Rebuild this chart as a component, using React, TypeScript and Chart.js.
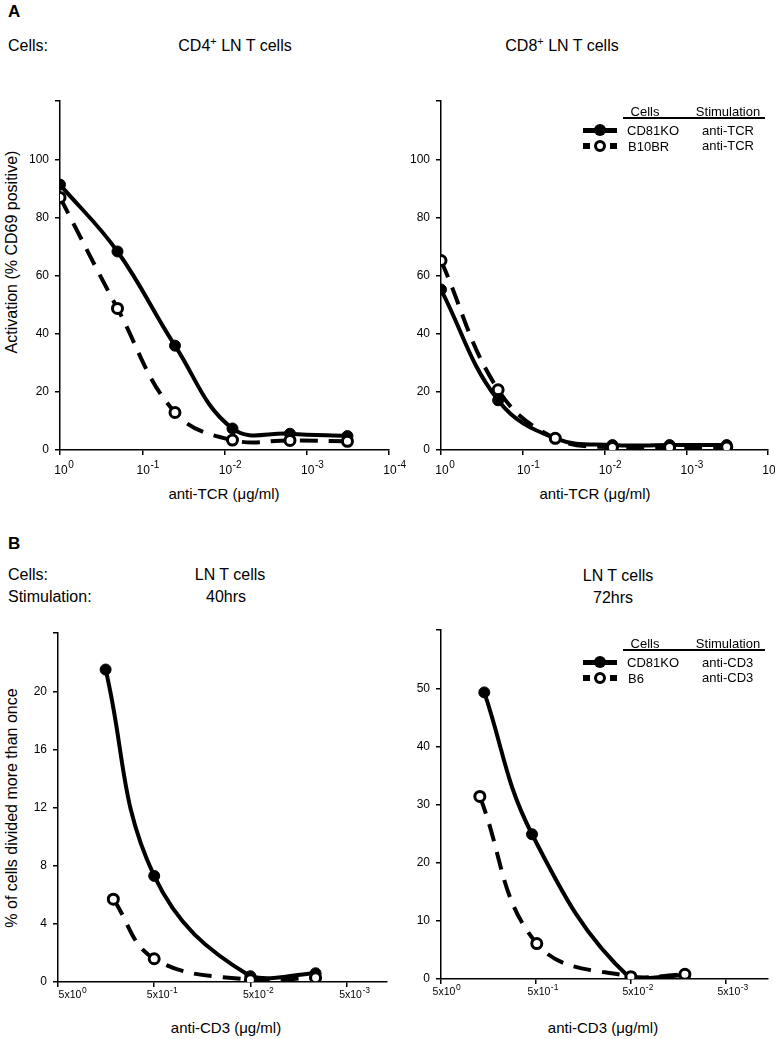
import React, { useEffect, useRef } from 'react';
import { Chart, registerables } from 'chart.js';
Chart.register(...registerables);

// ---------- Data ----------
const topDoses = [1, 0.2, 0.04, 0.008, 0.0016, 0.00032];
const cd4KO = [91.3, 68.3, 35.9, 7.4, 5.6, 4.8];
const cd4B10BR = [86.9, 48.7, 12.9, 3.4, 3.3, 3.0];
const cd8KO = [55.2, 17.1, 4.0, 1.7, 1.7, 1.7];
const cd8B10BR = [65.2, 20.7, 4.0, 0.9, 0.9, 1.0];
const topTickValues = [1, 0.1, 0.01, 0.001, 0.0001];
const topTickBases = ['10', '10', '10', '10', '10'];
const topTickExps = ['0', '-1', '-2', '-3', '-4'];

const h40DosesKO = [1.6, 0.5, 0.05, 0.0105];
const h40KO = [21.5, 7.3, 0.4, 0.6];
const h40DosesB6 = [1.33, 0.5, 0.05, 0.0105];
const h40B6 = [5.7, 1.6, 0.15, 0.3];
const h72DosesKO = [1.75, 0.55, 0.05, 0.0135];
const h72KO = [49.3, 24.9, 0.0, 0.7];
const h72DosesB6 = [1.95, 0.49, 0.05, 0.0135];
const h72B6 = [31.4, 6.1, 0.4, 0.8];
const bottomTickValues = [5, 0.5, 0.05, 0.005];
const bottomTickBases = ['5x10', '5x10', '5x10', '5x10'];
const bottomTickExps = ['0', '-1', '-2', '-3'];

const FONT = '"Liberation Sans", Arial, sans-serif';

// draws x tick labels with a true superscript exponent
const supTicksPlugin = {
  id: 'supTicks',
  afterDraw(chart: any, _args: any, o: any) {
    const s = chart.scales.x;
    const ctx = chart.ctx;
    ctx.save();
    ctx.fillStyle = '#000';
    ctx.textBaseline = 'alphabetic';
    ctx.textAlign = 'left';
    o.values.forEach((v: number, i: number) => {
      const px = s.getPixelForValue(v);
      ctx.font = `${o.size}px ${FONT}`;
      const wb = ctx.measureText(o.bases[i]).width;
      const x0 = px - wb / 2 + (o.shift || 0) + (i === 0 ? o.firstShift || 0 : 0);
      const y = s.top + o.dy;
      ctx.fillText(o.bases[i], x0, y);
      ctx.font = `${o.supSize}px ${FONT}`;
      ctx.fillText(o.exps[i], x0 + wb + 0.5, y - o.raise);
    });
    ctx.restore();
  },
};

type PanelProps = {
  axisX: number; xEnd: number; yTop: number; yBottom: number;
  xMin: number; xMax: number; yMax: number; yStep: number;
  tickValues: number[]; tickBases: string[]; tickExps: string[];
  labelSize: number; supSize: number; labelDy: number; raise: number; shift: number; firstShift: number;
  solidX: number[]; solidY: number[]; dashX: number[]; dashY: number[];
};

const YW = 50, PT = 10, XH = 32;

function Panel(p: PanelProps) {
  const ref = useRef<HTMLCanvasElement>(null);
  const PR = Math.min(22, 775 - p.xEnd);
  const left = p.axisX - YW;
  const top = p.yTop - PT;
  const width = p.xEnd - p.axisX + YW + PR;
  const height = p.yBottom - p.yTop + PT + XH;
  useEffect(() => {
    const grid = { drawOnChartArea: false, drawTicks: true, tickLength: 5, color: '#000', lineWidth: 1.5 };
    const border = { color: '#000', width: 1.5 };
    const chart = new Chart(ref.current!, {
      type: 'line',
      plugins: [supTicksPlugin],
      data: {
        datasets: [
          {
            data: p.solidX.map((x, i) => ({ x, y: p.solidY[i] })),
            borderColor: '#000', borderWidth: 4, tension: 0.4,
            pointBackgroundColor: '#000', pointBorderColor: '#000', pointBorderWidth: 1, pointRadius: 5.5,
            order: 2,
          },
          {
            data: p.dashX.map((x, i) => ({ x, y: p.dashY[i] })),
            borderColor: '#000', borderWidth: 4, tension: 0.4, borderDash: [18, 11],
            pointBackgroundColor: '#fff', pointBorderColor: '#000', pointBorderWidth: 3, pointRadius: 5,
            order: 1,
          },
        ],
      },
      options: {
        responsive: false,
        maintainAspectRatio: false,
        animation: false,
        layout: { padding: { top: PT, right: PR, left: 0, bottom: 0 }, autoPadding: false },
        plugins: {
          legend: { display: false },
          tooltip: { enabled: false },
          supTicks: {
            values: p.tickValues, bases: p.tickBases, exps: p.tickExps,
            size: p.labelSize, supSize: p.supSize, dy: p.labelDy, raise: p.raise,
            shift: p.shift, firstShift: p.firstShift,
          },
        },
        scales: {
          x: {
            type: 'logarithmic', reverse: true, min: p.xMin, max: p.xMax,
            afterBuildTicks: (s: any) => { s.ticks = p.tickValues.map((v) => ({ value: v, major: true })); },
            afterFit: (s: any) => { s.height = XH; },
            ticks: { autoSkip: false, maxRotation: 0, minRotation: 0, callback: () => '' },
            grid, border,
          },
          y: {
            type: 'linear', min: 0, max: p.yMax,
            afterFit: (s: any) => { s.width = YW; },
            ticks: {
              stepSize: p.yStep, color: '#000', padding: 6,
              font: { family: FONT, size: 12 },
              callback: (v: any) => (Number(v) === p.yMax ? '' : String(v)),
            },
            grid, border,
          },
        },
      } as any,
    });
    return () => chart.destroy();
  }, []);
  return (
    <canvas
      ref={ref}
      width={width}
      height={height}
      style={{ position: 'absolute', left, top, width, height }}
    />
  );
}

function T({ x, y, children, size = 16, align = 'left', bold = false, rotate = false }: any) {
  const style: any = {
    position: 'absolute', top: y - size / 2, height: size, lineHeight: `${size}px`,
    fontSize: size, fontFamily: FONT, fontWeight: bold ? 'bold' : 'normal', whiteSpace: 'nowrap', color: '#000',
  };
  if (rotate) {
    style.left = x; style.top = y; style.transform = 'translate(-50%, -50%) rotate(-90deg)';
  } else if (align === 'center') {
    style.left = x; style.transform = 'translateX(-50%)';
  } else {
    style.left = x;
  }
  return <div style={style}>{children}</div>;
}

function Sym({ x, y, dashed }: { x: number; y: number; dashed: boolean }) {
  const abs: any = { position: 'absolute' };
  if (!dashed) {
    return (
      <>
        <div style={{ ...abs, left: x, top: y - 2.5, width: 34, height: 5, background: '#000' }} />
        <div style={{ ...abs, left: x + 17 - 6, top: y - 6, width: 12, height: 12, borderRadius: 6, background: '#000' }} />
      </>
    );
  }
  return (
    <>
      <div style={{ ...abs, left: x, top: y - 3, width: 7, height: 6, background: '#000' }} />
      <div style={{ ...abs, left: x + 27, top: y - 3, width: 7, height: 6, background: '#000' }} />
      <div style={{ ...abs, left: x + 17 - 6, top: y - 6, width: 6, height: 6, borderRadius: 6, border: '3px solid #000', background: '#fff' }} />
    </>
  );
}

function Legend({ y0, names, stims }: { y0: number; names: string[]; stims: string[] }) {
  const rowY = [y0 + 19, y0 + 35];
  return (
    <>
      <T x={645} y={y0} size={13} align="center">Cells</T>
      <T x={728} y={y0} size={13} align="center">Stimulation</T>
      <div style={{ position: 'absolute', left: 623, top: y0 + 6, width: 142, height: 2, background: '#000' }} />
      <Sym x={583} y={rowY[0]} dashed={false} />
      <Sym x={583} y={rowY[1]} dashed={true} />
      <T x={627} y={rowY[0]} size={13}>{names[0]}</T>
      <T x={628} y={rowY[1]} size={13}>{names[1]}</T>
      <T x={702} y={rowY[0]} size={13}>{stims[0]}</T>
      <T x={702} y={rowY[1] - 1} size={13}>{stims[1]}</T>
    </>
  );
}

export default function App() {
  return (
    <div style={{ position: 'absolute', left: 0, top: 0, width: 775, height: 1039, overflow: 'hidden', background: '#fff' }}>
      <T x={8} y={11} size={17} bold>A</T>
      <T x={8} y={46}>Cells:</T>
      <T x={235} y={46} align="center">CD4<sup style={{ fontSize: 11, lineHeight: 0 }}>+</sup> LN T cells</T>
      <T x={562} y={46} align="center">CD8<sup style={{ fontSize: 11, lineHeight: 0 }}>+</sup> LN T cells</T>
      <T x={12} y={252} rotate>Activation (% CD69 positive)</T>
      <T x={224} y={493} size={15} align="center">anti-TCR (μg/ml)</T>
      <T x={595} y={493} size={15} align="center">anti-TCR (μg/ml)</T>

      <Panel axisX={60} xEnd={389} yTop={98} yBottom={450} xMin={0.0001} xMax={1} yMax={120} yStep={20}
        tickValues={topTickValues} tickBases={topTickBases} tickExps={topTickExps}
        labelSize={12} supSize={10} labelDy={24} raise={6} shift={1} firstShift={0}
        solidX={topDoses} solidY={cd4KO} dashX={topDoses} dashY={cd4B10BR} />
      <Panel axisX={441} xEnd={768} yTop={98} yBottom={450} xMin={0.0001} xMax={1} yMax={120} yStep={20}
        tickValues={topTickValues} tickBases={topTickBases} tickExps={topTickExps}
        labelSize={12} supSize={10} labelDy={24} raise={6} shift={1} firstShift={0}
        solidX={topDoses} solidY={cd8KO} dashX={topDoses} dashY={cd8B10BR} />
      <Legend y0={111} names={['CD81KO', 'B10BR']} stims={['anti-TCR', 'anti-TCR']} />

      <T x={8} y={543} size={17} bold>B</T>
      <T x={8} y={575}>Cells:</T>
      <T x={8} y={597}>Stimulation:</T>
      <T x={230} y={575} align="center">LN T cells</T>
      <T x={226} y={597} align="center">40hrs</T>
      <T x={618} y={576} align="center">LN T cells</T>
      <T x={613} y={598} align="center">72hrs</T>
      <T x={12} y={808} rotate>% of cells divided more than once</T>
      <T x={226} y={1027} size={15} align="center">anti-CD3 (μg/ml)</T>
      <T x={603} y={1027} size={15} align="center">anti-CD3 (μg/ml)</T>

      <Panel axisX={58} xEnd={387} yTop={630} yBottom={982} xMin={0.0019} xMax={5} yMax={24} yStep={4}
        tickValues={bottomTickValues} tickBases={bottomTickBases} tickExps={bottomTickExps}
        labelSize={10.5} supSize={8.5} labelDy={16} raise={5} shift={4} firstShift={8}
        solidX={h40DosesKO} solidY={h40KO} dashX={h40DosesB6} dashY={h40B6} />
      <Panel axisX={441} xEnd={768} yTop={627} yBottom={979} xMin={0.0018} xMax={5} yMax={60} yStep={10}
        tickValues={bottomTickValues} tickBases={bottomTickBases} tickExps={bottomTickExps}
        labelSize={10.5} supSize={8.5} labelDy={16} raise={5} shift={3} firstShift={0}
        solidX={h72DosesKO} solidY={h72KO} dashX={h72DosesB6} dashY={h72B6} />
      <Legend y0={643} names={['CD81KO', 'B6']} stims={['anti-CD3', 'anti-CD3']} />
    </div>
  );
}
